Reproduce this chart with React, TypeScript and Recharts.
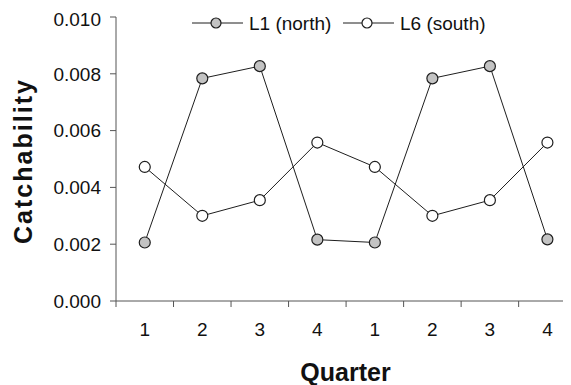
import React from 'react';
import { LineChart, Line, XAxis, YAxis } from 'recharts';

// Catchability by quarter, two years side by side
const quarters = ['1', '2', '3', '4', '1', '2', '3', '4'];
const northL1 = [0.00206, 0.00784, 0.00827, 0.00216, 0.00206, 0.00784, 0.00827, 0.00217];
const southL6 = [0.00472, 0.003, 0.00355, 0.00558, 0.00472, 0.003, 0.00355, 0.00558];
const yTicks = [0, 0.002, 0.004, 0.006, 0.008, 0.01];
const boundaryTicks = [0, 1, 2, 3, 4, 5, 6, 7];
const labelTicks = quarters.map((_, i) => i + 0.5);

const series = [
  { key: 'north', name: 'L1 (north)', fill: '#c3c3c3' },
  { key: 'south', name: 'L6 (south)', fill: '#ffffff' },
];

const data = quarters.map((q, i) => ({
  pos: i + 0.5,
  quarter: q,
  north: northL1[i],
  south: southL6[i],
}));

const FONT = '"Liberation Sans", Arial, Helvetica, sans-serif';
const AXIS = '#555555';
const INK = '#1e1e1e';
const X_DOMAIN: [number, number] = [0, 7.91];

const YTitle = ({ viewBox }: any) => {
  const x = viewBox.x + 15;
  const y = viewBox.y + viewBox.height / 2 + 3;
  return (
    <text
      x={x}
      y={y}
      transform={`rotate(-90, ${x}, ${y})`}
      textAnchor="middle"
      dominantBaseline="central"
      fontFamily={FONT}
      fontWeight="bold"
      fontSize={25}
      fill="#111"
      textLength={164}
      lengthAdjust="spacing"
    >
      Catchability
    </text>
  );
};

const XTitle = ({ viewBox }: any) => (
  <text
    x={viewBox.x + viewBox.width / 2 + 2}
    y={viewBox.y + 70}
    textAnchor="middle"
    dominantBaseline="central"
    fontFamily={FONT}
    fontWeight="bold"
    fontSize={25}
    fill="#111"
  >
    Quarter
  </text>
);

// Legend drawn above the plot without taking room from it
const LegendRow = () => {
  const starts = [184, 335];
  return (
    <svg width={563} height={32} style={{ position: 'absolute', left: 0, top: 0 }}>
      {series.map((s, i) => {
        const x0 = starts[i];
        return (
          <g key={s.key}>
            <line x1={x0} y1={15} x2={x0 + 51} y2={15} stroke={INK} strokeWidth={1} />
            <circle cx={x0 + 24} cy={15} r={5} fill={s.fill} stroke={INK} strokeWidth={1.2} />
            <text
              x={x0 + 57}
              y={15}
              dominantBaseline="central"
              fontFamily={FONT}
              fontSize={19}
              fill="#111"
            >
              {s.name}
            </text>
          </g>
        );
      })}
    </svg>
  );
};

export default function App() {
  return (
    <div style={{ position: 'relative', width: 563, height: 377 }}>
      <LineChart
        width={563}
        height={377}
        data={data}
        margin={{ top: 9, right: 0, bottom: 0, left: 0 }}
      >
        <XAxis
          xAxisId={0}
          dataKey="pos"
          type="number"
          domain={X_DOMAIN}
          ticks={boundaryTicks}
          tickFormatter={() => ''}
          height={1}
          stroke={AXIS}
          tickSize={6}
          allowDataOverflow
        />
        <XAxis
          xAxisId="labels"
          dataKey="pos"
          type="number"
          domain={X_DOMAIN}
          ticks={labelTicks}
          tickFormatter={(v: number) => quarters[Math.floor(v)]}
          height={83}
          axisLine={false}
          tickLine={false}
          tickSize={0}
          tickMargin={21}
          tick={{ fontFamily: FONT, fontSize: 19, fill: '#111' }}
          label={<XTitle />}
          allowDataOverflow
        />
        <YAxis
          domain={[0, 0.01]}
          ticks={yTicks}
          tickFormatter={(v: number) => v.toFixed(3)}
          width={108}
          stroke={AXIS}
          tickSize={6}
          tickMargin={9}
          tick={{ fontFamily: FONT, fontSize: 19, fill: '#111' }}
          label={<YTitle />}
          allowDataOverflow
        />
        {series.map((s) => (
          <Line
            key={s.key}
            dataKey={s.key}
            name={s.name}
            xAxisId={0}
            type="linear"
            stroke={INK}
            strokeWidth={1}
            dot={{ r: 5.5, fill: s.fill, stroke: INK, strokeWidth: 1.2 }}
            isAnimationActive={false}
          />
        ))}
      </LineChart>
      <LegendRow />
    </div>
  );
}
